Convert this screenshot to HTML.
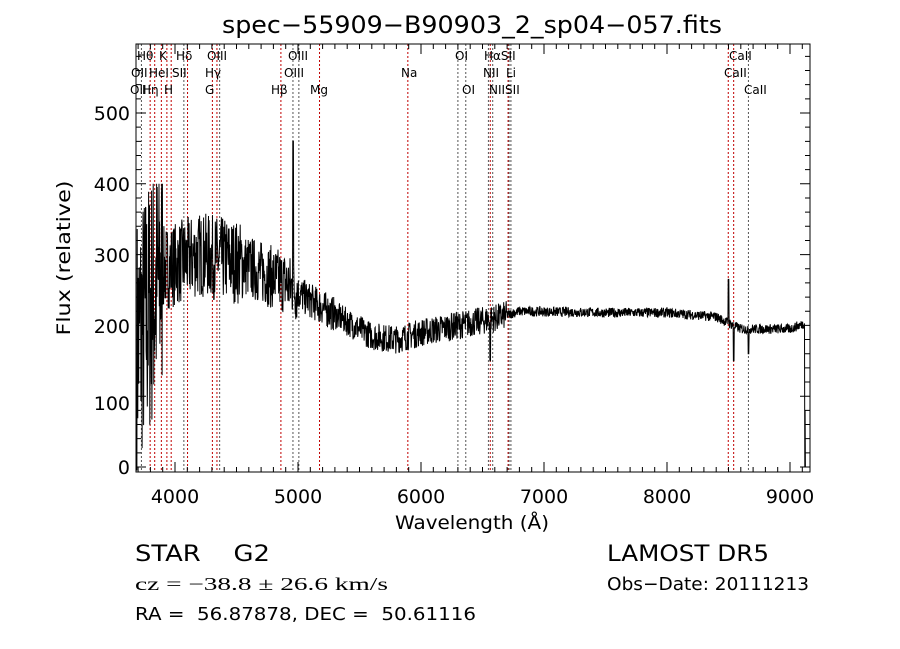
<!DOCTYPE html>
<html><head><meta charset="utf-8"><style>
html,body{margin:0;padding:0;background:#fff;}
svg{display:block;font-family:"DejaVu Sans","Liberation Sans",sans-serif;}
text{white-space:pre;}
</style></head><body>
<svg id="s" width="900" height="649" viewBox="0 0 900 649" xmlns="http://www.w3.org/2000/svg" xml:space="preserve">
<rect width="900" height="649" fill="#fff"/>
<text x="472" y="33" font-size="24" text-anchor="middle" textLength="500" lengthAdjust="spacingAndGlyphs">spec−55909−B90903_2_sp04−057.fits</text>
<g id="lines"></g>
<g id="labels" font-size="12"></g>
<path id="spec" fill="none" stroke="#000" stroke-width="1"/>
<rect x="136" y="44" width="674" height="428" fill="none" stroke="#000" stroke-width="1"/>
<g id="ticks" stroke="#000" stroke-width="1"></g>
<g font-size="19" text-anchor="middle">
<text x="175" y="503">4000</text><text x="298" y="503">5000</text><text x="421" y="503">6000</text>
<text x="544" y="503">7000</text><text x="667" y="503">8000</text><text x="790" y="503">9000</text>
</g>
<g font-size="19" text-anchor="end">
<text x="130" y="474">0</text><text x="130" y="410">100</text><text x="130" y="333">200</text>
<text x="130" y="262">300</text><text x="130" y="191">400</text><text x="130" y="120">500</text>
</g>
<text x="472" y="529" font-size="19" text-anchor="middle" textLength="154" lengthAdjust="spacingAndGlyphs">Wavelength (Å)</text>
<text transform="translate(70,258) rotate(-90)" font-size="19" text-anchor="middle" textLength="155" lengthAdjust="spacingAndGlyphs">Flux (relative)</text>
<text x="135" y="561" font-size="22" textLength="135" lengthAdjust="spacingAndGlyphs">STAR    G2</text>
<text x="607" y="561" font-size="22" textLength="162" lengthAdjust="spacingAndGlyphs">LAMOST DR5</text>
<text x="135" y="590" font-size="18" font-family="Liberation Serif,serif" textLength="253" lengthAdjust="spacingAndGlyphs">cz = −38.8 ± 26.6 km/s</text>
<text x="607" y="590" font-size="18" textLength="202" lengthAdjust="spacingAndGlyphs">Obs−Date: 20111213</text>
<text x="135" y="620" font-size="18" textLength="341" lengthAdjust="spacingAndGlyphs">RA =  56.87878, DEC =  50.61116</text>
</svg>
<script>
var X=w=>175+(w-4000)*0.123, Y=f=>467-f*0.708;
var ns="http://www.w3.org/2000/svg";
function el(p,t,a,txt){var e=document.createElementNS(ns,t);for(var k in a)e.setAttribute(k,a[k]);if(txt)e.textContent=txt;document.getElementById(p).appendChild(e);}
var L=[[3727,"g"],[3798,"r"],[3835,"r"],[3889,"r"],[3934,"r"],[3969,"r"],[4072,"g"],[4102,"r"],[4304,"r"],[4341,"r"],[4363,"g"],[4861,"r"],[4959,"g"],[5007,"g"],[5175,"r"],[5893,"r"],[6300,"g"],[6364,"g"],[6548,"g"],[6563,"r"],[6583,"g"],[6708,"r"],[6716,"g"],[6731,"g"],[8498,"r"],[8542,"r"],[8662,"g"]];
L.forEach(l=>el("lines","line",{x1:X(l[0]),x2:X(l[0]),y1:44,y2:472,stroke:l[1]=="r"?"#c00000":"#555","stroke-width":1,"stroke-dasharray":"2,2"}));
var T=[["Hθ",137,60],["K",159,60],["Hδ",176,60],["OIII",207,60],["OIII",288,60],["OI",455,60],["HαSII",484,60],["CaII",729,60],
["OII",131,77],["HeI",149,77],["SII",172,77],["Hγ",205,77],["OIII",284,77],["Na",401,77],["NII",483,77],["Li",506,77],["CaII",724,77],
["OII",130,94],["Hη",142,94],["H",164,94],["G",205,94],["Hβ",271,94],["Mg",310,94],["OI",462,94],["NIISII",489,94],["CaII",744,94]];
T.forEach(t=>el("labels","text",{x:t[1],y:t[2]},t[0]));
var tk="";
for(var w=3700;w<=9100;w+=100){var x=X(w),big=w%1000==0,h=big?10:5;tk+=`M${x} 472V${472-h}M${x} 44V${44+h}`;}
for(var f=0;f<=590;f+=20){var y=Y(f),big=f%100==0,h=big?10:5;if(y<44||y>472)continue;tk+=`M136 ${y}H${136+h}M810 ${y}H${810-h}`;}
el("ticks","path",{d:tk});
var seed=7;function r(){seed=(seed*16807)%2147483647;return seed/2147483647-0.5;}
function base(w){var p=[[3700,180],[3900,280],[4200,300],[4500,290],[4900,260],[5050,240],[5300,215],[5600,185],[5800,180],[6000,190],[6300,200],[6600,210],[6800,220],[7500,218],[8000,218],[8400,212],[8600,195],[9000,195],[9150,205]];
for(var i=0;i<p.length-1;i++)if(w<=p[i+1][0]){var t=(w-p[i][0])/(p[i+1][0]-p[i][0]);return p[i][1]+t*(p[i+1][1]-p[i][1]);}return 200;}
function amp(w){if(w<3900)return 380;if(w<4550)return 120;if(w<5000)return 90;if(w<5300)return 50;if(w<6700)return 40;return 14;}
var d="";
for(var w=3690;w<=9130;w+=2.5){var f=base(w)+amp(w)*r();
if(Math.abs(w-4960)<3)f=460;if(Math.abs(w-8500)<4)f=265;if(Math.abs(w-8542)<4)f=150;if(Math.abs(w-8662)<4)f=160;if(Math.abs(w-6563)<4)f=150;
if(w<3900)f=Math.max(-5,Math.min(400,f));if(w>9118)f=r()>0?80:0;
d+=(d?"L":"M")+X(w).toFixed(1)+" "+Math.max(44,Math.min(472,Y(f))).toFixed(1);}
document.getElementById("spec").setAttribute("d",d);
</script>
</body></html>
